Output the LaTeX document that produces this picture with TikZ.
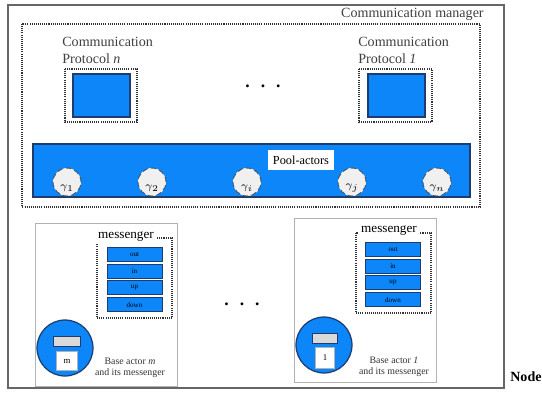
\documentclass[tikz,border=0pt]{standalone}
\usepackage{fontspec}
\setmainfont{Liberation Serif}
\usetikzlibrary{positioning}
\definecolor{poolblue}{RGB}{12,134,248}
\definecolor{edgeblue}{RGB}{30,60,110}
\tikzset{
  dotbox/.style={draw=black!80, dash pattern=on 0.6pt off 0.6pt, line width=0.9pt},
  bluebox/.style={fill=poolblue, draw=edgeblue, line width=0.7pt},
  actorbox/.style={draw=black!30, line width=0.5pt},
  gammanode/.style={circle, fill=black!6, draw=black!70, densely dashed, line width=0.5pt,
    minimum size=0.56cm, inner sep=0pt},
  portbox/.style={rectangle, fill=poolblue, draw=edgeblue, line width=0.5pt,
    minimum width=1.1cm, minimum height=0.28cm, inner sep=0pt, font=\fontsize{4}{4}\selectfont},
  lbl/.style={inner sep=0pt, font=\fontsize{8}{9.6}\selectfont, text=black!75},
  small/.style={inner sep=0pt, font=\fontsize{5.6}{6.6}\selectfont, align=center, text=black!80},
}
\begin{document}
\begin{tikzpicture}[x=0.02cm, y=-0.02cm]
  \useasboundingbox (0,0) rectangle (542,393);
  % node frame
  \draw[draw=black!60, line width=1.2pt] (8,5) rectangle (504,388);
  \node[inner sep=0pt, font=\bfseries\fontsize{8}{9}\selectfont, anchor=west] (nodelbl) at (510,377) {Node};

  % communication manager
  \draw[dotbox] (22,24) rectangle (480,207);
  \node[lbl, anchor=east] (cmlbl) at (484,14) {Communication manager};

  % protocols
  \node[lbl, anchor=north west, align=left] (protn) at (62,37) {Communication\\Protocol \textit{n}};
  \draw[dotbox] (65,69) rectangle (137,122);
  \draw[bluebox] (73,74) rectangle (130,117);
  \node[lbl, anchor=north west, align=left] (prot1) at (358,37) {Communication\\Protocol \textit{1}};
  \draw[dotbox] (359,69) rectangle (432,122);
  \draw[bluebox] (368,74) rectangle (425,117);
  \node[inner sep=0pt, font=\bfseries\fontsize{10}{10}\selectfont] (dotsup) at (263,86) {.\hspace{2.2mm}.\hspace{2.2mm}.};

  % pool of actors
  \draw[bluebox] (33,144) rectangle (470,197);
  \node[fill=white, inner sep=3pt, font=\fontsize{7}{8}\selectfont] (pool) at (301,160) {Pool-actors};
  \foreach \gx/\gi [count=\k] in {67/1, 152/2, 247/i, 352/j, 437/n}
    \node[gammanode] (g\k) at (\gx,182) {};
  \foreach \gi [count=\k] in {1,2,i,j,n}
    \node[inner sep=0pt, font=\fontsize{6}{6}\selectfont] at ([yshift=-0.12cm]g\k.center) {$\gamma_{\gi}$};

  % base actor m
  \draw[actorbox] (35,223) rectangle (177,386);
  \draw[dotbox] (97,238) rectangle (172,318);
  \node[inner sep=1pt, fill=white, font=\fontsize{7.5}{8}\selectfont] (msgm) at (126,237) {messenger};
  \foreach \p [count=\k] in {out,in,up,down}
    \node[portbox] (pm\k) at (134.5,254.5+16.7*\k-16.7) {\p};
  \node[circle, bluebox, minimum size=1.12cm] (bam) at (65,348) {};
  \draw[fill=black!15, draw=edgeblue, line width=0.5pt] (53,336) rectangle (80,346);
  \node[fill=white, draw=black!30, minimum width=0.42cm, minimum height=0.38cm, inner sep=0pt,
    font=\fontsize{5}{6}\selectfont] (bamid) at (67,361) {m};
  \node[small] (bamtxt) at (130,368) {Base actor \textit{m}\\and its messenger};

  \node[inner sep=0pt, font=\bfseries\fontsize{10}{10}\selectfont] (dotsdown) at (242,304) {.\hspace{2.2mm}.\hspace{2.2mm}.};

  % base actor 1
  \draw[actorbox] (294,218) rectangle (436,382);
  \draw[dotbox] (356,233) rectangle (431,313);
  \node[inner sep=1pt, fill=white, font=\fontsize{7.5}{8}\selectfont] (msg1) at (389,231) {messenger};
  \foreach \p [count=\k] in {out,in,up,down}
    \node[portbox] (p1\k) at (393,249.5+16.7*\k-16.7) {\p};
  \node[circle, bluebox, minimum size=1.12cm] (ba1) at (324,345) {};
  \draw[fill=black!15, draw=edgeblue, line width=0.5pt] (312,333) rectangle (337,343);
  \node[fill=white, draw=black!30, minimum width=0.38cm, minimum height=0.42cm, inner sep=0pt,
    font=\fontsize{5}{6}\selectfont] (ba1id) at (325,358) {1};
  \node[small] (ba1txt) at (394,367) {Base actor \textit{1}\\and its messenger};
\end{tikzpicture}
\end{document}
